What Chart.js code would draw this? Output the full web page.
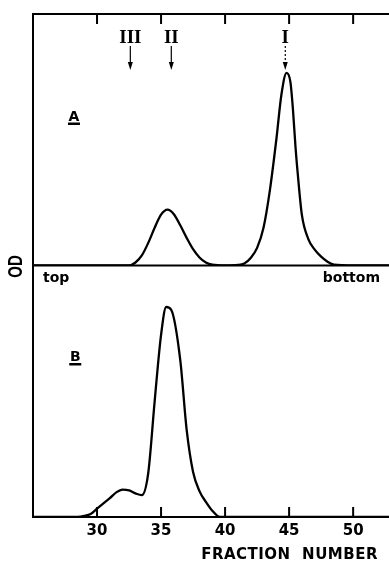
<!DOCTYPE html>
<html>
<head>
<meta charset="utf-8">
<script src="https://cdn.jsdelivr.net/npm/chart.js@4/dist/chart.umd.min.js"></script>
<style>
  html, body { margin: 0; padding: 0; background: #fff; }
  #wrap { width: 389px; height: 563px; }
</style>
</head>
<body>
<div id="wrap"><canvas id="c" width="389" height="563"></canvas></div>
<script>
// ---- data ----
const FRAC_A = [25, 30, 32.5, 33, 33.5, 34, 34.5, 35, 35.5, 36, 36.5, 37, 37.5, 38, 38.5, 39, 40, 41, 41.5, 42, 42.5, 43, 43.5, 44, 44.4, 44.8, 45.1, 45.3, 45.5, 45.7, 46, 46.5, 47, 47.5, 48, 48.5, 50, 52.8];
const OD_A   = [0, 0, 0, 1.2, 4, 9, 15, 20.2, 22.2, 20.4, 16, 11, 6.5, 3.2, 1.2, 0.3, 0, 0.2, 0.8, 3, 7, 15, 30, 50, 68, 76.6, 73, 62, 47, 35, 20, 10.5, 6.3, 3.5, 1.5, 0.3, 0, 0];
const FRAC_B = [25, 28.5, 29, 29.5, 30, 30.5, 31, 31.5, 32, 32.5, 33, 33.5, 34, 34.5, 35, 35.4, 35.8, 36.5, 37, 37.5, 38, 38.5, 39, 39.6, 40, 45, 52.8];
const OD_B   = [0, 0, 0.4, 1.2, 3.3, 5.4, 7.5, 9.8, 10.9, 10.6, 9.4, 8.7, 17.5, 46, 72.4, 83.5, 82.3, 62.4, 34.6, 17.9, 10.3, 6, 2.5, 0, 0, 0, 0];
const X_TICKS = [30, 35, 40, 45, 50];
const MARKERS = ['III', 'II', 'I'];
const MARKER_FRAC = [32.6, 35.8, 44.7];
const X_TITLE = 'FRACTION  NUMBER';
const Y_TITLE = 'OD';

const ptsA = FRAC_A.map((x, i) => ({x, y: OD_A[i]}));
const ptsB = FRAC_B.map((x, i) => ({x, y: OD_B[i]}));

const frame = {
  id: 'frame',
  afterDraw(chart) {
    const ctx = chart.ctx;
    const xs = chart.scales.x, yA = chart.scales.yA, yB = chart.scales.yB;
    const L = chart.chartArea.left, R = chart.chartArea.right;
    const top = yA.top, mid = yA.getPixelForValue(0), bot = yB.getPixelForValue(0);
    ctx.save();
    ctx.strokeStyle = '#000';
    ctx.fillStyle = '#000';
    ctx.lineWidth = 2;
    ctx.beginPath();
    ctx.moveTo(L, top); ctx.lineTo(R, top);
    ctx.moveTo(L, mid); ctx.lineTo(R, mid);
    ctx.moveTo(L, bot); ctx.lineTo(R, bot);
    ctx.moveTo(L, top - 1); ctx.lineTo(L, bot + 1);
    ctx.stroke();
    // inside ticks
    ctx.beginPath();
    X_TICKS.forEach(v => {
      const px = xs.getPixelForValue(v);
      ctx.moveTo(px, top); ctx.lineTo(px, top + 10);
      ctx.moveTo(px, bot); ctx.lineTo(px, bot - 10);
    });
    ctx.stroke();
    // markers
    ctx.font = 'bold 19px "Liberation Serif"';
    ctx.textAlign = 'center';
    ctx.textBaseline = 'alphabetic';
    MARKERS.forEach((m, i) => {
      const px = xs.getPixelForValue(MARKER_FRAC[i]);
      ctx.fillText(m, px, 43);
      ctx.lineWidth = 1.2;
      ctx.setLineDash(m === 'I' ? [2, 2] : []);
      ctx.beginPath();
      ctx.moveTo(px, 46); ctx.lineTo(px, 64);
      ctx.stroke();
      ctx.setLineDash([]);
      ctx.beginPath();
      ctx.moveTo(px - 2.5, 62); ctx.lineTo(px + 2.5, 62); ctx.lineTo(px, 70); ctx.closePath();
      ctx.fill();
    });
    // panel labels
    ctx.font = 'bold 14px "DejaVu Sans"';
    ctx.textAlign = 'center';
    const panels = [['A', 28.2, yA.getPixelForValue(0) - 145], ['B', 28.3, yB.getPixelForValue(0) - 156]];
    panels.forEach(([t, f, py]) => {
      const px = xs.getPixelForValue(f);
      ctx.fillText(t, px, py);
      ctx.fillRect(px - 6, py + 2, 12, 2.5);
    });
    // top / bottom
    ctx.font = 'bold 14px "DejaVu Sans"';
    ctx.textAlign = 'left';
    ctx.fillText('top', L + 10, mid + 16);
    ctx.textAlign = 'right';
    ctx.fillText('bottom', R - 9, mid + 16);
    // x title
    ctx.font = 'bold 15px "DejaVu Sans"';
    ctx.letterSpacing = '0.5px';
    ctx.textAlign = 'right';
    ctx.fillText(X_TITLE, R - 11, 559);
    ctx.letterSpacing = '0px';
    // y title
    ctx.save();
    ctx.translate(21.5, mid + 1);
    ctx.rotate(-Math.PI / 2);
    ctx.scale(0.75, 1);
    ctx.font = 'bold 20px "Liberation Sans"';
    ctx.textAlign = 'center';
    ctx.textBaseline = 'alphabetic';
    ctx.fillText(Y_TITLE, 0, 0);
    ctx.restore();
    ctx.restore();
  }
};

new Chart(document.getElementById('c'), {
  type: 'line',
  data: {
    datasets: [
      { data: ptsA, yAxisID: 'yA', borderColor: '#000', borderWidth: 2.3, pointRadius: 0, fill: false, cubicInterpolationMode: 'monotone' },
      { data: ptsB, yAxisID: 'yB', borderColor: '#000', borderWidth: 2.3, pointRadius: 0, fill: false, cubicInterpolationMode: 'monotone' }
    ]
  },
  options: {
    responsive: false,
    devicePixelRatio: 1,
    animation: false,
    layout: { padding: { left: 33, top: 14, right: 0, bottom: 0 } },
    plugins: { legend: { display: false }, tooltip: { enabled: false } },
    scales: {
      x: {
        type: 'linear', min: 25, max: 52.8,
        afterBuildTicks: s => { s.ticks = X_TICKS.map(v => ({value: v})); },
        afterFit: s => { s.height = 46; },
        grid: { display: false, drawTicks: false },
        border: { display: false },
        ticks: { color: '#000', padding: 5, font: { family: 'DejaVu Sans', weight: 'bold', size: 15 }, maxRotation: 0 }
      },
      yA: {
        type: 'linear', position: 'left', stack: 'od', stackWeight: 1, weight: 1, min: 0, max: 100,
        afterFit: s => { s.width = 0; },
        grid: { display: false }, border: { display: false }, ticks: { display: false }
      },
      yB: {
        type: 'linear', position: 'left', stack: 'od', stackWeight: 1, weight: 0, min: 0, max: 100,
        afterFit: s => { s.width = 0; },
        grid: { display: false }, border: { display: false }, ticks: { display: false }
      }
    }
  },
  plugins: [frame]
});
</script>
</body>
</html>
